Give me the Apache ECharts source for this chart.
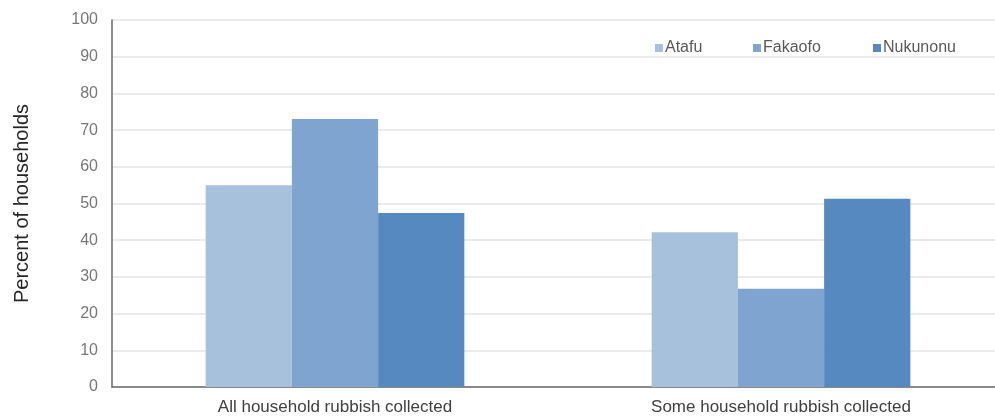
<!DOCTYPE html>
<html>
<head>
<meta charset="utf-8">
<script src="https://cdn.jsdelivr.net/npm/echarts@6/dist/echarts.min.js"></script>
<style>
  html, body { margin: 0; padding: 0; background: #fff; overflow: hidden; }
  /* plot runs a bit past the right edge of the window, as in the picture */
  #chart { width: 1004px; height: 416px; }
</style>
</head>
<body>
<div id="chart"></div>
<script>
// categories and values
var categories = ['All household rubbish collected', 'Some household rubbish collected'];
var atafu = [55, 42.2];
var fakaofo = [73, 26.8];
var nukunonu = [47.4, 51.3];
var seriesNames = ['Atafu', 'Fakaofo', 'Nukunonu'];
var colors = ['#a7c0dc', '#7fa4cf', '#5689bf'];
var legendLeft = [650, 748, 868];

var myChart = echarts.init(document.getElementById('chart'));

function bar(name, data, color) {
    return {
        name: name,
        type: 'bar',
        data: data,
        barGap: '0%',
        barCategoryGap: '42%',
        itemStyle: { color: color }
    };
}

// one legend per item so each can sit where it is in the picture
var legends = seriesNames.map(function (name, i) {
    return {
        top: 35,
        left: legendLeft[i],
        itemWidth: 8,
        itemHeight: 8,
        icon: 'rect',
        textStyle: { color: '#595959', fontSize: 16, padding: [0, 0, 0, -3] },
        data: [name]
    };
});

var option = {
    animation: false,
    textStyle: { fontFamily: 'Liberation Sans, Arial, sans-serif' },
    legend: legends,
    grid: { left: 112, right: 0, top: 20, bottom: 29, containLabel: false },
    xAxis: {
        type: 'category',
        data: categories,
        axisLine: { lineStyle: { color: '#6b6b6b', width: 1.5 } },
        axisTick: { show: false },
        axisLabel: { color: '#404040', fontSize: 17, margin: 12 }
    },
    yAxis: {
        type: 'value',
        min: 0,
        max: 100,
        interval: 10,
        name: 'Percent of households',
        nameLocation: 'middle',
        nameGap: 80,
        nameTextStyle: { color: '#262626', fontSize: 20 },
        axisLine: { show: true, lineStyle: { color: '#6b6b6b', width: 1.5 } },
        axisTick: { show: false },
        axisLabel: { color: '#777', fontSize: 16, margin: 14 },
        splitLine: { lineStyle: { color: '#e4e4e4', width: 1.5 } }
    },
    series: [
        bar(seriesNames[0], atafu, colors[0]),
        bar(seriesNames[1], fakaofo, colors[1]),
        bar(seriesNames[2], nukunonu, colors[2])
    ]
};

myChart.setOption(option, true);
</script>
</body>
</html>
